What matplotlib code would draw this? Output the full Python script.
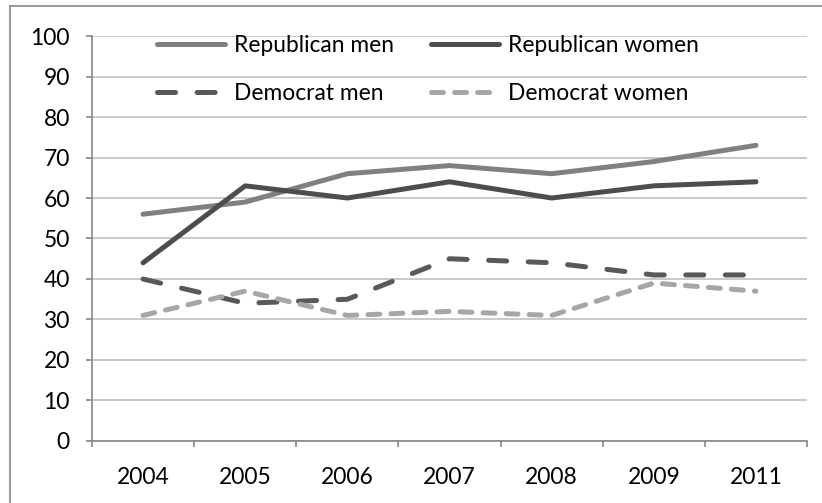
import matplotlib
matplotlib.use("Agg")
import matplotlib.pyplot as plt
from matplotlib.lines import Line2D

# valores
anos = ["2004", "2005", "2006", "2007", "2008", "2009", "2011"]
republican_men = [56, 59, 66, 68, 66, 69, 73]
republican_women = [44, 63, 60, 64, 60, 63, 64]
democrat_men = [40, 34, 35, 45, 44, 41, 41]
democrat_women = [31, 37, 31, 32, 31, 39, 37]

plt.rcParams['font.family'] = ['Lato', 'DejaVu Sans']
plt.rcParams['lines.scale_dashes'] = False

fig = plt.figure(figsize=(8.22, 5.03), dpi=100)
ax = fig.add_axes([0.1119, 0.1233, 0.8699, 0.8051])

x = list(range(len(anos)))
lw = 3.6
l_rm, = ax.plot(x, republican_men, color='#808080', lw=lw, solid_capstyle='round',
                solid_joinstyle='round', label='Republican men')
l_rw, = ax.plot(x, republican_women, color='#4d4d4d', lw=lw, solid_capstyle='round',
                solid_joinstyle='round', label='Republican women')
l_dm, = ax.plot(x, democrat_men, color='#595959', lw=lw, dashes=(13, 15.5),
                dash_capstyle='round', label='Democrat men')
l_dw, = ax.plot(x, democrat_women, color='#a6a6a6', lw=lw, dashes=(8.6, 8),
                dash_capstyle='round', label='Democrat women')

ax.set_xlim(-0.5, len(anos) - 0.5)
ax.set_ylim(0, 100)
ax.set_yticks(range(0, 101, 10))
ax.set_xticks(x)
ax.set_xticklabels(anos)
ax.set_xticks([i - 0.5 for i in range(len(anos) + 1)], minor=True)

ax.tick_params(axis='x', which='major', length=0, pad=19, labelsize=16.5)
ax.tick_params(axis='x', which='minor', length=4.5, color='#868686', width=1.2)
ax.tick_params(axis='y', length=4.5, color='#868686', width=1.2, pad=11.5, labelsize=16.5)

ax.grid(axis='y', color='#c0c0c0', lw=1.2)
ax.set_axisbelow(True)
for s in ['top', 'right']:
    ax.spines[s].set_visible(False)
for s in ['left', 'bottom']:
    ax.spines[s].set_color('#868686')
    ax.spines[s].set_linewidth(1.2)

# ordem para ficar: linha 1 = republicanos, linha 2 = democratas
handles = [l_rm, l_dm, l_rw, l_dw]
ax.legend(handles, [h.get_label() for h in handles], ncol=2, loc='upper left',
          bbox_to_anchor=(0.091, 1.003), frameon=False, borderpad=0, borderaxespad=0,
          fontsize=16.4, handlelength=3.0, handletextpad=0.4, columnspacing=1.6,
          labelspacing=1.2)

# moldura externa (só topo e esquerda ficam visíveis)
fig.add_artist(Line2D([10 / 822, 1.0], [1 - 6 / 503, 1 - 6 / 503],
                      color='#868686', lw=1.2, transform=fig.transFigure))
fig.add_artist(Line2D([10 / 822, 10 / 822], [0.0, 1 - 6 / 503],
                      color='#868686', lw=1.2, transform=fig.transFigure))

fig.savefig("out.png", dpi=100)
